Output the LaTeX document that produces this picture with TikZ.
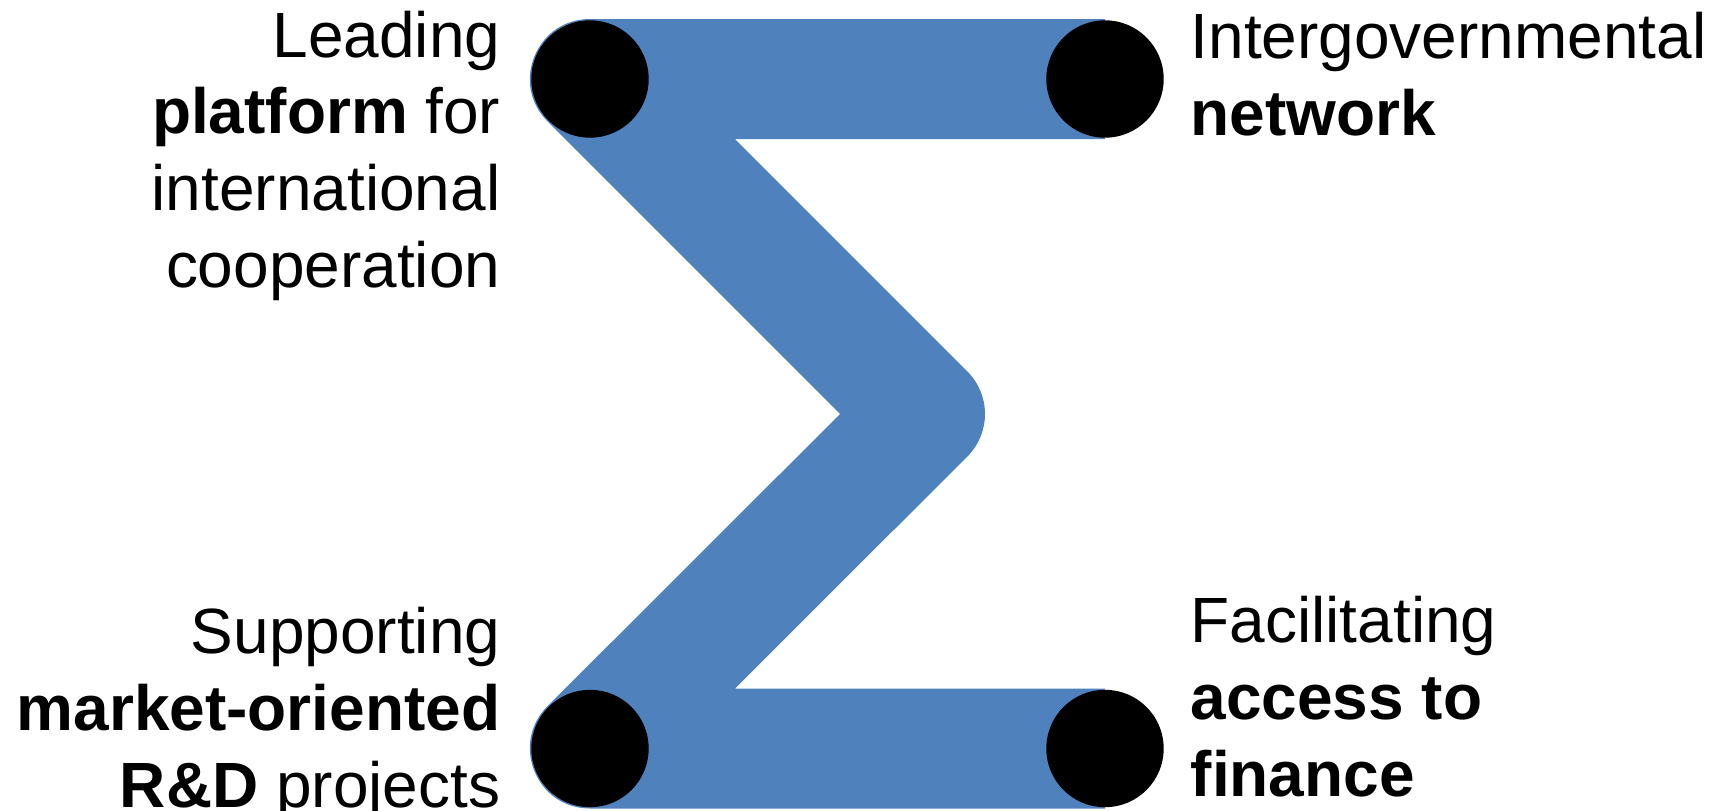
\documentclass[tikz,border=0pt]{standalone}
\usepackage{fontspec}
\setmainfont{Liberation Sans}
\usetikzlibrary{positioning}
\definecolor{sigmablue}{HTML}{4F81BD}

\begin{document}
\begin{tikzpicture}[
  sigma/.style={draw=sigmablue,line width=1.2cm,line join=round},
  dot/.style={fill=black,draw=black,circle,inner sep=0pt,minimum size=1.16cm},
  lbl/.style={inner sep=0pt,font=\fontsize{18.2}{21.8}\selectfont}
]
\useasboundingbox (0,0) rectangle (17.22,8.10);
% the corners of the sigma
\coordinate (tl) at (5.90,7.31);
\coordinate (tr) at (11.05,7.31);
\coordinate (apex) at (9.25,3.96);
\coordinate (bl) at (5.90,0.615);
\coordinate (br) at (11.05,0.615);
% the thick sigma stroke
\draw[sigma] (tr) -- (tl) -- (apex) -- (bl) -- (br);
% the dots at its ends
\foreach \p in {tl,tr,bl,br}
  \node[dot] (dot-\p) at (\p) {};
% the labels (anchored at the baseline of their last line)
\node[lbl,align=right,anchor=base east] (lead) at (5.01,5.23)
  {Leading\\\textbf{platform} for\\international\\cooperation};
\node[lbl,align=left,anchor=base west] (inter) at (11.90,6.75)
  {Intergovernmental\\\textbf{network}};
\node[lbl,align=right,anchor=base east] (supp) at (5.01,0.03)
  {Supporting\\\textbf{market-oriented}\\\textbf{R\&D} projects};
\node[lbl,align=left,anchor=base west] (facil) at (11.90,0.14)
  {Facilitating\\\textbf{access to}\\\textbf{finance}};
\end{tikzpicture}
\end{document}
